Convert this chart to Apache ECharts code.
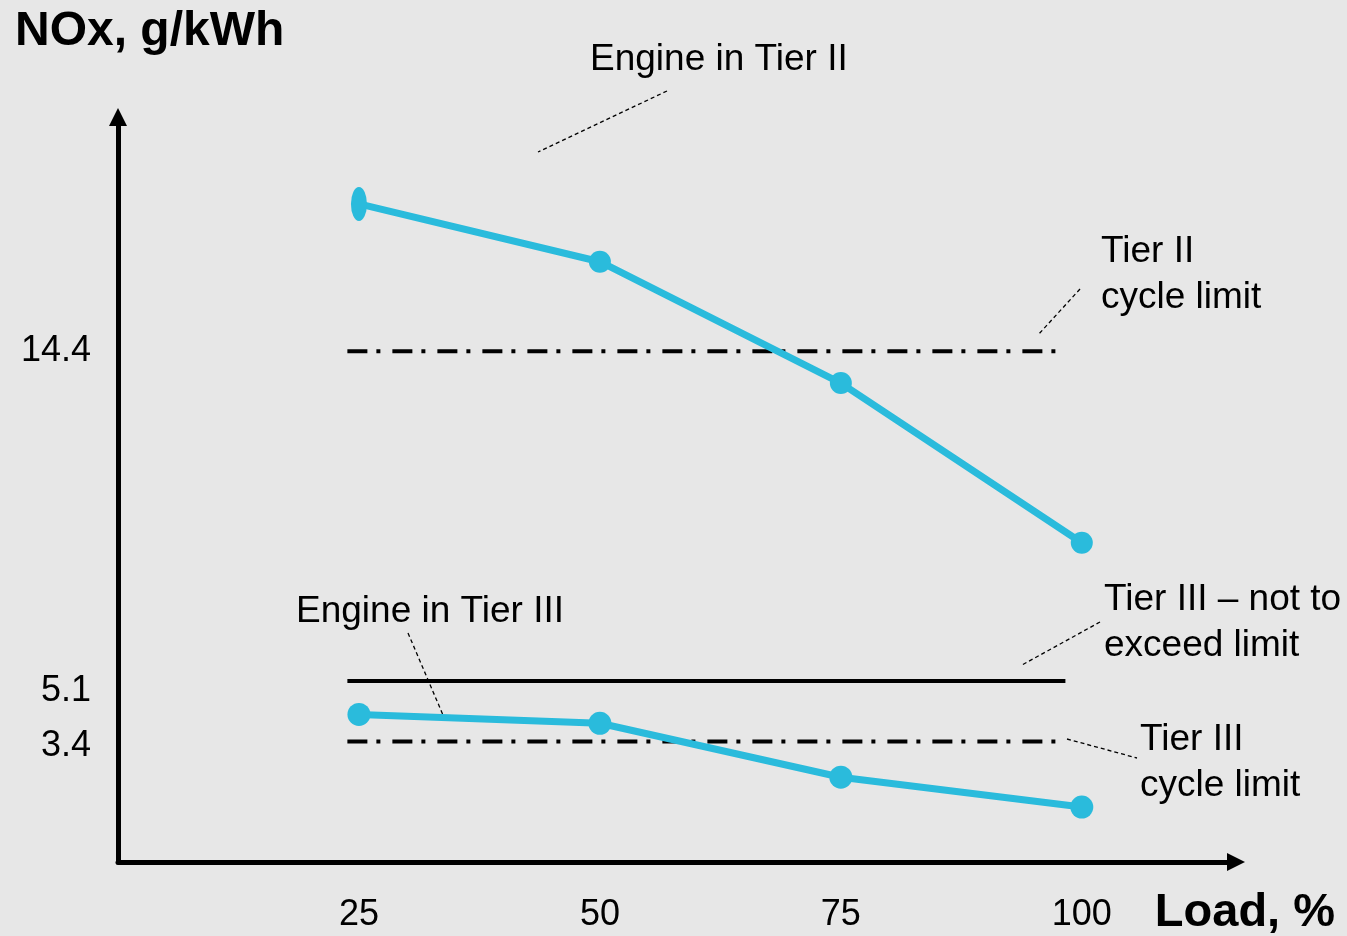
<!DOCTYPE html>
<html>
<head>
<meta charset="utf-8">
<style>
  html, body { margin: 0; padding: 0; background: #e7e7e7; }
  #chart { width: 1347px; height: 936px; }
</style>
<script src="https://cdn.jsdelivr.net/npm/echarts@6/dist/echarts.min.js"></script>
</head>
<body>
<div id="chart"></div>
<script>
// ---- data ----
const loads = [25, 50, 75, 100];
const tier2Engine = [18.55, 16.92, 13.5, 9.0];
const tier3Engine = [4.16, 3.91, 2.39, 1.55];
const limitSpan = [23.8, 98.3];
const tier2CycleLimit = 14.4;
const tier3NteLimit = 5.1;
const tier3CycleLimit = 3.4;
const xTickValues = [25, 50, 75, 100];
const yTickValues = [3.4, 5.1, 14.4];

const FONT = "'Liberation Sans', Arial, sans-serif";
const BLUE = '#2abbdc';
const DASHDOT = [20, 9, 4, 12];

const chart = echarts.init(document.getElementById('chart'), null, { renderer: 'canvas' });

function limitSeries(name, y, type) {
  return {
    name: name, type: 'line', symbol: 'none', silent: true, z: 2,
    data: [[limitSpan[0], y], [limitSpan[1], y]],
    lineStyle: { color: '#000', width: 4, type: type, cap: 'butt' }
  };
}

const ann = (x, y, text) => ({
  type: 'text', x: x, y: y,
  style: { text: text, font: '37px ' + FONT, fill: '#000', verticalAlign: 'middle', lineHeight: 46 }
});
const leader = (x1, y1, x2, y2) => ({
  type: 'line', shape: { x1: x1, y1: y1, x2: x2, y2: y2 },
  style: { stroke: '#000', lineWidth: 1.3, lineDash: [4, 3] }
});

chart.setOption({
  backgroundColor: '#e7e7e7',
  animation: false,
  title: [
    { text: 'NOx, g/kWh', left: 10, top: 3,
      textStyle: { fontFamily: FONT, fontSize: 48, fontWeight: 'bold', color: '#000' } },
    { text: 'Load, %', right: 7, top: 885,
      textStyle: { fontFamily: FONT, fontSize: 47, fontWeight: 'bold', color: '#000' } }
  ],
  grid: { left: 118, right: 111, top: 117, bottom: 74, containLabel: false },
  xAxis: {
    type: 'value', min: 0, max: 116,
    axisLine: { show: true, symbol: ['none', 'triangle'], symbolSize: [18, 18],
      lineStyle: { color: '#000', width: 5 } },
    axisTick: { show: false },
    splitLine: { show: false },
    axisLabel: { customValues: xTickValues, fontFamily: FONT, fontSize: 36, color: '#000', margin: 35 }
  },
  yAxis: {
    type: 'value', min: 0, max: 21,
    axisLine: { show: true, symbol: ['none', 'triangle'], symbolSize: [18, 18],
      lineStyle: { color: '#000', width: 5 } },
    axisTick: { show: false },
    splitLine: { show: false },
    axisLabel: {
      customValues: yTickValues, fontFamily: FONT, fontSize: 36, color: '#000', margin: 27,
      formatter: function (v) {
        if (v === 5.1) return '{lo|5.1}';
        if (v === 3.4) return '{lo2|3.4}';
        return String(v);
      },
      rich: {
        lo: { fontFamily: FONT, fontSize: 36, color: '#000', padding: [20, 0, 0, 0] },
        lo2: { fontFamily: FONT, fontSize: 36, color: '#000', padding: [10, 0, 0, 0] }
      }
    }
  },
  series: [
    limitSeries('Tier II cycle limit', tier2CycleLimit, DASHDOT),
    limitSeries('Tier III not to exceed limit', tier3NteLimit, 'solid'),
    limitSeries('Tier III cycle limit', tier3CycleLimit, DASHDOT),
    {
      name: 'Engine in Tier II', type: 'line', z: 5,
      symbol: 'circle', symbolSize: 22,
      data: tier2Engine.map((v, i) => i === 0 ? { value: [loads[i], v], symbolSize: [16, 34] } : [loads[i], v]),
      lineStyle: { color: BLUE, width: 7 },
      itemStyle: { color: BLUE }
    },
    {
      name: 'Engine in Tier III', type: 'line', z: 5,
      symbol: 'circle', symbolSize: 23,
      data: tier3Engine.map((v, i) => [loads[i], v]),
      lineStyle: { color: BLUE, width: 7 },
      itemStyle: { color: BLUE }
    }
  ],
  graphic: [
    ann(590, 60, 'Engine in Tier II'),
    ann(1101, 275, 'Tier II\ncycle limit'),
    ann(1104, 623, 'Tier III \u2013 not to\nexceed limit'),
    ann(296, 612, 'Engine in Tier III'),
    ann(1140, 763, 'Tier III\ncycle limit'),
    leader(667, 91, 538, 152),
    leader(1080, 289, 1038, 335),
    leader(1100, 622, 1022, 665),
    leader(408, 633, 443, 715),
    leader(1067, 739, 1137, 758)
  ]
});
</script>
</body>
</html>
